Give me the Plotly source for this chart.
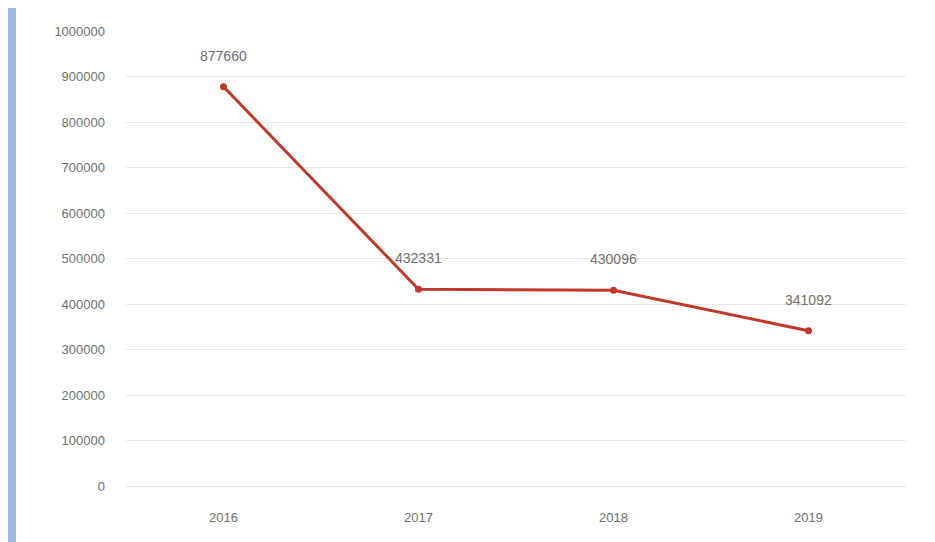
import plotly.graph_objects as go

years = [2016, 2017, 2018, 2019]
values = [877660, 432331, 430096, 341092]
y_ticks = [0, 100000, 200000, 300000, 400000, 500000, 600000, 700000, 800000, 900000, 1000000]

line_color = "#c0392f"
font_fam = "Liberation Sans, Arial"

fig = go.Figure()
fig.add_trace(go.Scatter(
    x=years, y=values, mode="lines+markers",
    line=dict(color=line_color, width=3),
    marker=dict(color=line_color, size=7, symbol="circle"),
    showlegend=False, hoverinfo="x+y",
))
for x, v in zip(years, values):
    fig.add_annotation(x=x, y=v, text=str(v), showarrow=False, yshift=31,
                       font=dict(family=font_fam, size=14, color="#707070"))

fig.update_layout(
    width=935, height=542,
    margin=dict(l=118, r=37, t=23, b=64),
    paper_bgcolor="white", plot_bgcolor="white",
    xaxis=dict(range=[2015.5, 2019.5], tickvals=years, ticktext=[str(y) for y in years],
               showgrid=False, showline=True, linecolor="#e3e3e3", zeroline=False,
               ticks="", tickfont=dict(family=font_fam, size=13, color="#707070"),
               ticklabelstandoff=19),
    yaxis=dict(range=[0, 1000000], tickvals=y_ticks, ticktext=[str(t) for t in y_ticks],
               showgrid=True, gridcolor="#e6e6e6", gridwidth=1, zeroline=False,
               tickfont=dict(family=font_fam, size=13, color="#707070"),
               ticklabelstandoff=20),
    shapes=[dict(type="rect", xref="paper", yref="paper", x0=-118/780, x1=-110/780, y0=-64/455, y1=1+23/455,
                 fillcolor="#5b8fc9", line=dict(width=0), layer="below", opacity=0.6)],
)
fig.write_html("out.html")
